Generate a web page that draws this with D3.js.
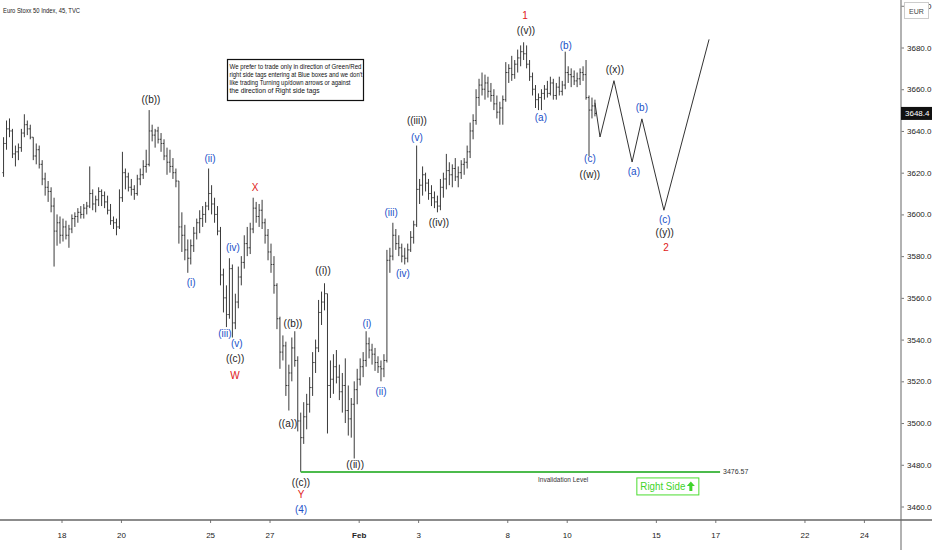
<!DOCTYPE html>
<html>
<head>
<meta charset="utf-8">
<script src="https://cdn.jsdelivr.net/npm/d3@7"></script>
<style>
  body { margin: 0; background: #fff; }
  text { font-family: "Liberation Sans", Arial, sans-serif; }
</style>
</head>
<body>
<div id="chart"></div>
<script>
// 45 min bars, 10 bars per trading day, first bar sits 2 days before Jan 18
const firstOpen = 3620;
const highs = [
  3637,3645,3646,3641,3633,3634,3641,3648,3645,3643,
  3637,3634,3633,3626,3620,3616,3613,3608,3600,3599,
  3598,3597,3595,3600,3601,3603,3604,3605,3606,3623,
  3612,3609,3613,3612,3611,3609,3605,3599,3598,3612,
  3630,3622,3620,3617,3614,3619,3622,3626,3631,3650,
  3643,3641,3642,3639,3636,3632,3631,3627,3622,3615,
  3601,3595,3588,3588,3594,3598,3602,3604,3606,3622,
  3614,3608,3604,3594,3574,3566,3579,3576,3562,3575,
  3580,3590,3594,3596,3608,3606,3605,3607,3598,3593,
  3586,3580,3567,3551,3542,3539,3528,3541,3544,3532,
  3505,3510,3514,3522,3534,3540,3559,3563,3567,3562,
  3530,3533,3535,3528,3524,3531,3518,3512,3520,3526,
  3531,3534,3544,3541,3538,3536,3532,3530,3533,3583,
  3584,3596,3593,3590,3586,3584,3586,3592,3597,3633,
  3617,3623,3620,3617,3614,3611,3609,3617,3620,3629,
  3625,3624,3627,3623,3626,3627,3633,3644,3648,3660,
  3665,3668,3667,3666,3663,3660,3657,3654,3657,3673,
  3672,3676,3674,3679,3681,3682.5,3681,3674,3668,3662,
  3658,3660,3662,3664,3666,3665,3663,3666,3664,3678,
  3671,3670,3669,3668,3670,3671,3674,3657,3656,3655
];
const lows = [
  3618,3631,3637,3627,3623,3626,3630,3637,3638,3636,
  3626,3624,3622,3614,3609,3606,3601,3575,3585,3586,
  3587,3588,3584,3591,3594,3596,3598,3598,3600,3603,
  3602,3601,3604,3604,3603,3600,3595,3593,3590,3593,
  3606,3612,3611,3609,3607,3609,3614,3617,3620,3623,
  3635,3632,3634,3630,3626,3619,3620,3617,3613,3586,
  3582,3578,3572,3576,3582,3588,3591,3594,3596,3602,
  3600,3596,3590,3566,3553,3546,3550,3541,3545,3555,
  3566,3574,3580,3581,3591,3596,3594,3593,3586,3578,
  3572,3562,3545,3526,3530,3513,3506,3520,3527,3496,
  3476.6,3490,3497,3505,3513,3524,3534,3547,3554,3495,
  3512,3514,3519,3511,3505,3500,3494,3493,3483,3509,
  3518,3522,3527,3531,3528,3525,3524,3520,3522,3529,
  3572,3578,3583,3580,3577,3576,3577,3582,3586,3594,
  3605,3609,3611,3607,3604,3603,3601,3602,3608,3612,
  3614,3613,3616,3613,3617,3619,3622,3627,3636,3643,
  3652,3657,3655,3656,3654,3650,3646,3643,3643,3654,
  3663,3664,3665,3668,3671,3674,3670,3664,3657,3651,
  3650,3650,3655,3656,3657,3655,3655,3657,3657,3660,
  3663,3661,3662,3661,3662,3664,3655,3628,3646,3647
];
const closes = [
  3634,3641,3640,3629,3630,3632,3639,3643,3641,3637,
  3628,3631,3624,3617,3613,3611,3604,3592,3596,3590,
  3594,3590,3593,3598,3599,3601,3600,3603,3604,3610,
  3605,3607,3611,3609,3606,3602,3597,3596,3594,3608,
  3620,3618,3613,3612,3610,3617,3619,3623,3624,3640,
  3638,3640,3636,3634,3628,3625,3623,3620,3616,3594,
  3590,3583,3579,3585,3591,3596,3598,3600,3604,3610,
  3605,3600,3592,3571,3560,3552,3574,3548,3558,3570,
  3577,3586,3584,3593,3603,3599,3602,3596,3590,3582,
  3576,3566,3550,3534,3537,3518,3524,3536,3530,3501,
  3493,3503,3509,3517,3529,3536,3553,3558,3562,3518,
  3521,3527,3522,3515,3518,3506,3502,3509,3516,3521,
  3527,3530,3538,3535,3533,3529,3527,3526,3530,3578,
  3580,3590,3586,3584,3580,3579,3583,3589,3595,3612,
  3614,3619,3615,3610,3608,3606,3604,3613,3617,3621,
  3619,3622,3618,3620,3624,3625,3630,3640,3645,3656,
  3662,3660,3663,3659,3657,3653,3649,3651,3655,3668,
  3670,3667,3672,3675,3678,3677,3672,3666,3660,3655,
  3656,3658,3660,3658,3663,3657,3661,3659,3662,3668,
  3667,3666,3664,3665,3668,3667,3656,3650,3652,3648.4
];

// date axis (trading days from Jan 18)
const tickDays = [0, 2, 5, 7, 10, 12, 15, 17, 20, 22, 25, 27];
const tickLabels = ['18', '20', '25', '27', 'Feb', '3', '8', '10', '15', '17', '22', '24'];
const priceTicks = [3460, 3480, 3500, 3520, 3540, 3560, 3580, 3600, 3620, 3640, 3660, 3680, 3700];

// projected path after ((w))
const projDays = [17.95, 18.12, 18.59, 19.20, 19.53, 20.27, 21.79];
const projPrices = [3653.5, 3637.1, 3664.1, 3625.1, 3645.8, 3602.0, 3683.9];

// wave labels: text, day, price, degree
const waveText = ['((b))', '(ii)', 'X', '(i)', '(iv)', '(iii)', '(v)', '((c))', 'W',
  '((b))', '((a))', '((i))', '((ii))', '(i)', '(ii)', '((c))', 'Y', '(4)',
  '(iii)', '(iv)', '((iii))', '(v)', '((iv))', '(a)', '(c)', '((w))',
  '1', '((v))', '(b)', '((x))', '(a)', '(b)', '(c)', '((y))', '2'];
const waveDay = [3.01, 5.00, 6.51, 4.36, 5.77, 5.50, 5.90, 5.84, 5.84,
  7.79, 7.62, 8.80, 9.88, 10.28, 10.75, 8.06, 8.06, 8.06,
  11.09, 11.49, 11.96, 11.96, 12.70, 16.13, 17.78, 17.78,
  15.60, 15.63, 16.97, 18.62, 19.26, 19.53, 20.30, 20.30, 20.34];
const wavePrice = [3655.0, 3626.6, 3613.1, 3567.3, 3584.2, 3542.8, 3538.0, 3530.7, 3523.0,
  3547.6, 3499.9, 3573.1, 3480.0, 3547.6, 3514.9, 3471.3, 3465.8, 3458.8,
  3601.0, 3571.7, 3644.9, 3637.1, 3596.2, 3646.3, 3626.6, 3618.9,
  3695.4, 3688.2, 3681.0, 3669.4, 3620.8, 3651.1, 3597.7, 3591.4, 3584.2];
const waveDegree = ['k', 'b', 'r', 'b', 'b', 'b', 'b', 'k', 'r',
  'k', 'k', 'k', 'k', 'b', 'b', 'k', 'r', 'b',
  'b', 'b', 'k', 'b', 'k', 'b', 'b', 'k',
  'r', 'k', 'b', 'k', 'b', 'b', 'b', 'k', 'r'];

const invalidation = 3476.57;
const invalidFrom = 8.05, invalidTo = 22.16;
const lastPrice = 3648.4;

const W = 932, H = 550;
const svg = d3.select('#chart').append('svg')
    .attr('width', W)
    .attr('height', H);

let x = d3.scaleLinear().domain([0, 27]).range([61.5, 863.9]);
let y = d3.scaleLinear().domain([3460, 3680]).range([506.5, 47.5]);
const axisX = 901, axisY = 520;
const colors = { k: '#1c1c1c', b: '#2250c8', r: '#e02020' };

// bars
const bars = closes.map(function (c, i) {
    let o = i == 0 ? firstOpen : closes[i - 1];
    return {
        day: -2 + (i + 0.5) / 10,
        o: o, c: c,
        h: Math.max(highs[i], o, c),
        l: Math.min(lows[i], o, c)
    };
});
let g = svg.append('g').attr('stroke', '#3a3a3a').attr('stroke-width', 1);
bars.forEach(function (d) {
    let bx = x(d.day);
    g.append('line').attr('x1', bx).attr('x2', bx).attr('y1', y(d.h)).attr('y2', y(d.l));
    g.append('line').attr('x1', bx - 1.2).attr('x2', bx).attr('y1', y(d.o)).attr('y2', y(d.o));
    g.append('line').attr('x1', bx).attr('x2', bx + 1.2).attr('y1', y(d.c)).attr('y2', y(d.c));
});

// invalidation level
svg.append('line')
    .attr('x1', x(invalidFrom)).attr('x2', x(invalidTo))
    .attr('y1', y(invalidation)).attr('y2', y(invalidation))
    .attr('stroke', '#4cbb4c').attr('stroke-width', 2);
svg.append('text')
    .attr('x', x(invalidTo) + 3).attr('y', y(invalidation) + 2.5)
    .style('font-size', '7px').attr('fill', '#333')
    .text('3476.57');
svg.append('text')
    .attr('x', x(16.88)).attr('y', y(invalidation) + 10)
    .attr('text-anchor', 'middle')
    .style('font-size', '6.5px').attr('fill', '#333')
    .text('Invalidation Level');

// right side tag
let rsx = x(19.36), rsy = y(invalidation) + 6;
svg.append('rect')
    .attr('x', rsx).attr('y', rsy).attr('width', 62).attr('height', 17)
    .attr('fill', '#fff').attr('stroke', '#4cdc30').attr('stroke-width', 1);
svg.append('text')
    .attr('x', rsx + 3.5).attr('y', rsy + 12.5)
    .attr('textLength', 45).attr('lengthAdjust', 'spacingAndGlyphs')
    .style('font-size', '10.5px').attr('fill', '#3fd42a')
    .text('Right Side');
svg.append('path')
    .attr('d', 'M' + (rsx + 54) + ',' + (rsy + 3.5) + ' l4,4.5 h-2.5 v5 h-3 v-5 h-2.5 z')
    .attr('fill', '#3fd42a');

// projection
let line = d3.line()
    .x(function (d, i) { return x(projDays[i]); })
    .y(function (d) { return y(d); });
svg.append('path')
    .datum(projPrices)
    .attr('d', line)
    .attr('fill', 'none')
    .attr('stroke', '#333')
    .attr('stroke-width', 1);

// wave labels
svg.append('g').selectAll('text')
    .data(waveText)
    .enter()
    .append('text')
    .attr('x', function (d, i) { return x(waveDay[i]); })
    .attr('y', function (d, i) { return y(wavePrice[i]) + 3.5; })
    .attr('text-anchor', 'middle')
    .style('font-size', '10px')
    .attr('fill', function (d, i) { return colors[waveDegree[i]]; })
    .text(function (d) { return d; });

// note box
const note = ['We prefer to trade only in direction of Green/Red',
    'right side tags entering at Blue boxes and we don\'t',
    'like trading Turning up/down arrows or against',
    'the direction of Right side tags'];
const noteLen = [132, 133, 121, 90];
svg.append('rect')
    .attr('x', 227.5).attr('y', 59.5).attr('width', 136).attr('height', 41)
    .attr('fill', '#fff').attr('stroke', '#111').attr('stroke-width', 1.2);
note.forEach(function (t, i) {
    svg.append('text')
        .attr('x', 229.5).attr('y', 68.5 + i * 8.3)
        .attr('textLength', noteLen[i]).attr('lengthAdjust', 'spacingAndGlyphs')
        .style('font-size', '6.8px').attr('fill', '#111')
        .text(t);
});

// title
svg.append('text')
    .attr('x', 3).attr('y', 13)
    .attr('textLength', 77).attr('lengthAdjust', 'spacingAndGlyphs')
    .style('font-size', '7.5px').attr('fill', '#222')
    .text('Euro Stoxx 50 Index, 45, TVC');

// axes
let yAxis = d3.axisRight(y)
    .tickValues(priceTicks)
    .tickSize(3)
    .tickPadding(3)
    .tickFormat(d3.format('.1f'));
let gy = svg.append('g').attr('class', 'axis')
    .attr('transform', 'translate(' + axisX + ',0)')
    .call(yAxis);
gy.select('.domain').remove();
gy.selectAll('text').style('font-size', '8px').attr('fill', '#222')
    .style('font-family', '"Liberation Sans", Arial, sans-serif');
gy.selectAll('line').attr('stroke', '#777');

let xAxis = d3.axisBottom(x)
    .tickValues(tickDays)
    .tickSize(3)
    .tickPadding(9)
    .tickFormat(function (d, i) { return tickLabels[i]; });
let gx = svg.append('g').attr('class', 'axis')
    .attr('transform', 'translate(0,' + axisY + ')')
    .call(xAxis);
gx.select('.domain').remove();
gx.selectAll('text').style('font-size', '8px').attr('fill', '#222')
    .style('font-family', '"Liberation Sans", Arial, sans-serif')
    .style('font-weight', function (d, i) { return tickLabels[i] == 'Feb' ? 'bold' : 'normal'; });
gx.selectAll('line').attr('stroke', '#777');

svg.append('line')
    .attr('x1', axisX).attr('x2', axisX).attr('y1', 0).attr('y2', H)
    .attr('stroke', '#999').attr('stroke-width', 1.5);
svg.append('line')
    .attr('x1', 0).attr('x2', W).attr('y1', axisY).attr('y2', axisY)
    .attr('stroke', '#666').attr('stroke-width', 1.5);

// currency box and last price
svg.append('rect')
    .attr('x', 904.5).attr('y', 2.5).attr('width', 24).attr('height', 16)
    .attr('fill', '#fff').attr('stroke', '#ccc');
svg.append('text')
    .attr('x', 916.5).attr('y', 13.5).attr('text-anchor', 'middle')
    .style('font-size', '7px').attr('fill', '#444')
    .text('EUR');
svg.append('rect')
    .attr('x', axisX).attr('y', y(lastPrice) - 6.5).attr('width', W - axisX).attr('height', 13)
    .attr('fill', '#111');
svg.append('text')
    .attr('x', axisX + 4).attr('y', y(lastPrice) + 3)
    .style('font-size', '8px').attr('fill', '#fff')
    .text(d3.format('.1f')(lastPrice));
</script>
</body>
</html>
